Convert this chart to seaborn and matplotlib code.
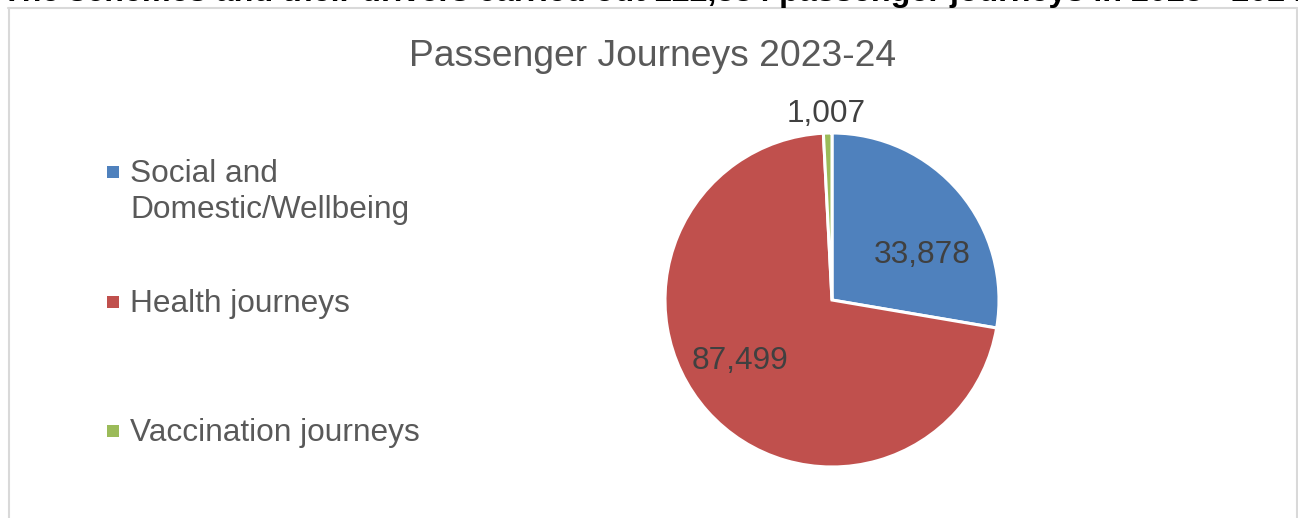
import matplotlib
matplotlib.use("Agg")
import matplotlib.pyplot as plt
from matplotlib.lines import Line2D
from matplotlib.patches import Rectangle
import seaborn as sns

# Passenger journeys by purpose, 2023-24
categories = ["Social and\nDomestic/Wellbeing", "Health journeys", "Vaccination journeys"]
journeys = [33878, 87499, 1007]
colors = ["#4F81BD", "#C0504D", "#9BBB59"]
chart_title = "Passenger Journeys 2023-24"
heading = ("The schemes and their drivers carried out "
           f"{sum(journeys):,} passenger journeys in 2023 - 2024")

sns.set_theme(style="white")
plt.rcParams["font.family"] = ["Liberation Sans", "DejaVu Sans"]

W, H = 1298, 518
fig = plt.figure(figsize=(W / 100, H / 100), dpi=100)
fig.patch.set_facecolor("white")

def fx(px):
    return px / W

def fy(py):
    return 1 - py / H

# Document heading sitting above the chart area
fig.text(fx(2), fy(1), heading, ha="left", va="baseline",
         fontsize=23.2, fontweight="bold", color="black")

# Chart area border
border = "#D9D9D9"
fig.add_artist(Line2D([fx(8), fx(1297)], [fy(7.5), fy(7.5)], color=border, lw=1.5))
fig.add_artist(Line2D([fx(8.5), fx(8.5)], [fy(7.5), 0], color=border, lw=1.5))
fig.add_artist(Line2D([fx(1296.8), fx(1296.8)], [fy(7.5), 0], color=border, lw=1.5))

fig.text(fx(653), fy(66), chart_title, ha="center", va="baseline",
         fontsize=26.8, color="#595959")

# Pie
cx, cy, r = 832, 300, 167
ax = fig.add_axes([fx(cx - r), fy(cy + r), (2 * r) / W, (2 * r) / H])
palette = sns.color_palette(colors)
wedges, _ = ax.pie(journeys, colors=palette, startangle=90, counterclock=False,
                   wedgeprops=dict(edgecolor="white", linewidth=2.2))
ax.set_xlim(-1, 1)
ax.set_ylim(-1, 1)
ax.set_aspect("equal")
ax.axis("off")

label_pos = [(0.54, 0.27), (-0.55, -0.365), (-0.035, 1.115)]
for v, (lx, ly) in zip(journeys, label_pos):
    ax.text(lx, ly, f"{v:,}", ha="center", va="center", fontsize=22.8,
            color="#404040", clip_on=False)

# Legend: square swatch followed by the category name
legend_rows = [172, 302, 431]
line_gap = 36
for label, col, ly in zip(categories, palette, legend_rows):
    fig.add_artist(Rectangle((fx(107), fy(ly + 6)), 12 / W, 12 / H,
                             facecolor=col, edgecolor="none"))
    extra = label.count("\n") * line_gap
    fig.text(fx(130), fy(ly + 10 + extra), label, ha="left", va="baseline",
             fontsize=22.8, color="#595959", linespacing=1.26)

fig.savefig("out.png", dpi=100, facecolor="white")
